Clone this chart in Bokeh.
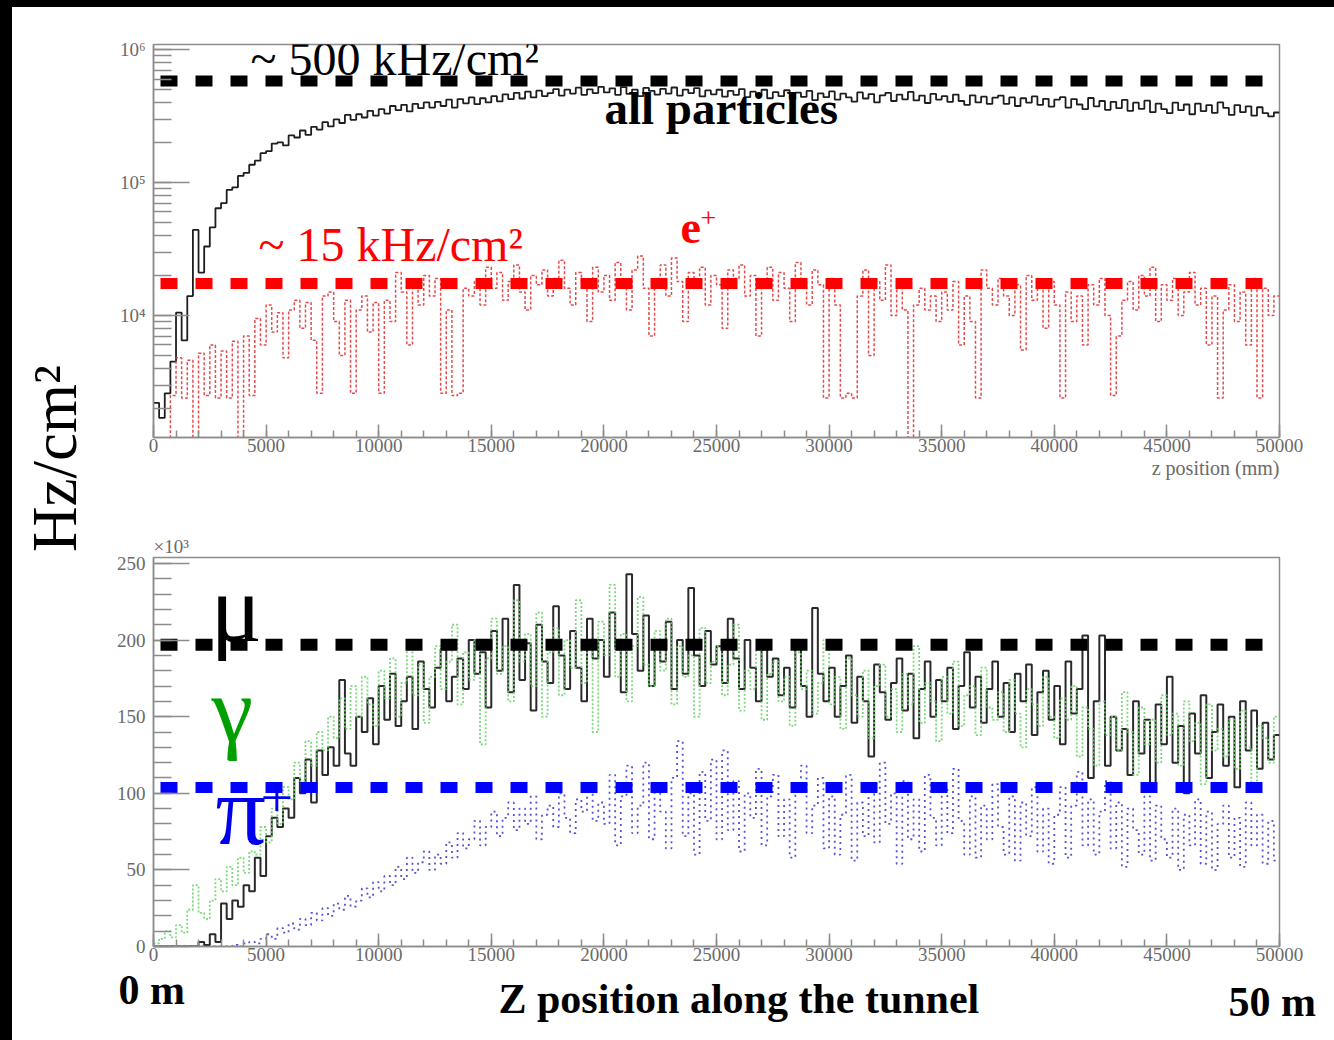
import numpy as np
from bokeh.plotting import figure
from bokeh.layouts import row, column
from bokeh.models import (Label, Title, SingleIntervalTicker, LogTicker, CustomJSTickFormatter,
                          GlobalInlineStyleSheet)
from bokeh.embed import file_html
from bokeh.resources import INLINE

# ---------------- data ----------------
BIN_MM = 250
Z_EDGES = list(range(0, 50001, BIN_MM))   # bin edges along the tunnel (mm)

# top panel (Hz/cm^2, given here in kHz/cm^2)
all_particles_khz = [
    2.2, 1.7, 2.6, 4.5, 10.5, 6.5, 14, 44, 21, 33,
    46, 64, 70, 88, 92, 112, 118, 136, 146, 166,
    172, 196, 200, 190, 226, 218, 246, 228, 262, 250,
    284, 264, 298, 280, 322, 296, 326, 308, 346, 318,
    356, 330, 376, 350, 384, 342, 390, 362, 400, 366,
    404, 376, 420, 366, 424, 394, 436, 388, 430, 400,
    446, 408, 460, 424, 472, 428, 482, 436, 490, 446,
    470, 504, 450, 500, 466, 516, 456, 502, 470, 524,
    476, 510, 456, 522, 464, 500, 446, 514, 488, 458,
    506, 466, 518, 450, 500, 470, 512, 444, 492, 460,
    498, 442, 488, 456, 504, 438, 482, 452, 498, 430,
    478, 446, 494, 424, 474, 440, 488, 416, 468, 438,
    484, 420, 466, 436, 406, 476, 428, 462, 400, 452,
    472, 410, 458, 422, 480, 414, 450, 396, 464, 420,
    446, 404, 458, 410, 384, 452, 400, 442, 390, 434,
    450, 390, 436, 376, 430, 398, 444, 384, 426, 372,
    420, 438, 366, 424, 386, 356, 432, 374, 410, 352,
    404, 362, 418, 346, 398, 358, 412, 338, 392, 356,
    332, 398, 350, 386, 326, 392, 344, 382, 334, 400,
    364, 322, 382, 338, 374, 318, 368, 332, 314, 336,
]
positron_khz = [
    0.8, 0.8, 0.8, 2.5, 4.8, 2.4, 4.6, 0.8, 5.2, 2.5,
    6.0, 2.4, 5.4, 2.4, 6.4, 0.8, 7.0, 2.5, 9.5, 6.0,
    12, 7.5, 10.5, 4.8, 11, 13, 8, 12.5, 6.5, 2.6,
    14, 15, 9, 5, 13, 2.6, 11, 14, 7.5, 12.5,
    2.6, 13, 9, 21, 15, 6, 17, 12, 20, 14,
    19, 2.6, 11, 2.5, 2.6, 16, 14, 18, 12, 23,
    16, 21, 13, 18, 24, 15, 11, 20, 17, 22,
    14, 19, 26, 16, 12, 21, 18, 9, 23, 15,
    20, 13, 25, 17, 11, 22, 28, 16, 7, 19,
    24, 14, 27, 18, 9, 21, 16, 23, 12, 20,
    17, 8, 22, 19, 24, 14, 20, 7, 18, 23,
    13, 21, 16, 9, 25, 18, 12, 22, 17, 2.4,
    19, 12, 2.4, 2.6, 2.4, 14, 22, 5, 18, 13,
    24, 10, 17, 11, 0.8, 12, 16, 11, 14, 9,
    15, 11, 18, 6, 14, 9, 2.4, 22, 16, 12,
    19, 14, 10, 17, 5.5, 20, 13, 16, 8, 18,
    12, 2.4, 15, 9, 14, 6, 17, 12, 19, 10,
    2.5, 7, 13, 18, 11, 20, 14, 23, 9, 17,
    13, 19, 10, 15, 21, 12, 16, 6, 14, 2.4,
    11, 17, 9, 15, 6, 19, 2.4, 16, 10, 14,
]
# bottom panel (x10^3 Hz/cm^2)
muon_k = [
    0, 0, 0, 0, 0, 0, 0, 0, 3, 1,
    8, 3, 28, 18, 30, 26, 40, 36, 58, 46,
    72, 84, 78, 90, 84, 110, 100, 122, 94, 128,
    112, 130, 118, 174, 126, 118, 150, 140, 162, 132,
    170, 148, 178, 144, 160, 176, 142, 186, 168, 156,
    182, 194, 160, 176, 188, 168, 200, 178, 192, 156,
    206, 180, 214, 166, 236, 174, 198, 154, 210, 186,
    172, 222, 190, 168, 206, 182, 160, 214, 188, 200,
    176, 218, 194, 166, 243, 204, 180, 216, 170, 198,
    186, 212, 168, 200, 178, 234, 190, 170, 206, 184,
    196, 172, 214, 188, 168, 200, 182, 160, 194, 176,
    188, 164, 182, 156, 196, 170, 150, 221, 178, 160,
    182, 150, 170, 190, 146, 176, 160, 124, 184, 166,
    148, 172, 188, 154, 178, 136, 168, 186, 150, 174,
    160, 182, 142, 170, 192, 156, 176, 146, 168, 186,
    150, 172, 140, 178, 160, 184, 138, 166, 180, 148,
    170, 132, 186, 152, 168, 203, 110, 160, 203, 118,
    150, 128, 142, 112, 160, 126, 148, 106, 158, 132,
    176, 120, 144, 100, 152, 126, 164, 110, 140, 158,
    118, 150, 104, 160, 128, 154, 116, 146, 122, 138,
]
gamma_k = [
    2, 5, 10, 6, 14, 9, 24, 40, 22, 18,
    30, 44, 36, 52, 40, 58, 48, 62, 60, 78,
    68, 90, 80, 104, 96, 120, 108, 134, 118, 140,
    128, 150, 136, 162, 142, 170, 150, 176, 158, 144,
    180, 162, 188, 150, 172, 194, 164, 184, 146, 176,
    196, 168, 186, 210, 158, 192, 174, 200, 132, 188,
    214, 178, 196, 160, 226, 186, 204, 170, 218, 150,
    192, 208, 164, 200, 182, 226, 172, 194, 140, 212,
    190, 236, 176, 204, 160, 196, 228, 184, 170, 206,
    180, 214, 158, 196, 176, 190, 150, 208, 172, 186,
    196, 164, 184, 210, 154, 180, 168, 194, 148, 178,
    186, 160, 176, 144, 192, 168, 180, 152, 172, 200,
    158, 176, 142, 188, 164, 150, 180, 136, 170, 184,
    150, 168, 140, 178, 158, 196, 146, 172, 160, 134,
    176, 152, 186, 144, 164, 170, 138, 182, 156, 148,
    166, 140, 174, 152, 130, 168, 158, 144, 176, 150,
    136, 162, 148, 170, 124, 156, 142, 118, 160, 138,
    150, 128, 166, 140, 112, 156, 132, 148, 120, 164,
    138, 152, 118, 160, 134, 146, 106, 158, 128, 142,
    124, 148, 116, 154, 130, 102, 144, 136, 120, 150,
]
pion_k = [
    0, 0, 0, 0, 0, 0, 0, 0, 0, 0,
    0, 0, 0, 0, 1, 0, 2, 3, 2, 5,
    8, 5, 12, 9, 15, 11, 18, 14, 22, 17,
    25, 20, 28, 24, 33, 26, 30, 38, 32, 42,
    36, 46, 40, 52, 44, 58, 48, 55, 62, 50,
    60, 54, 68, 58, 74, 64, 70, 82, 66, 78,
    88, 72, 84, 94, 76, 90, 80, 98, 70, 86,
    92, 78, 100, 84, 74, 96, 88, 106, 82, 94,
    80, 112, 66, 98, 118, 74, 92, 120, 70, 104,
    88, 64, 110, 134, 72, 100, 60, 114, 82, 122,
    70, 128, 76, 108, 62, 100, 84, 116, 66, 98,
    112, 72, 96, 58, 104, 118, 74, 92, 110, 64,
    98, 60, 86, 112, 56, 94, 72, 106, 68, 120,
    80, 100, 54, 108, 70, 96, 62, 112, 84, 66,
    104, 74, 116, 82, 60, 98, 58, 92, 70, 106,
    78, 60, 98, 56, 94, 72, 104, 62, 90, 54,
    86, 104, 58, 92, 114, 66, 96, 60, 88, 108,
    64, 94, 52, 90, 76, 60, 98, 56, 92, 70,
    58, 90, 50, 86, 66, 96, 54, 88, 50, 80,
    92, 58, 84, 52, 94, 66, 86, 54, 82, 56,
]
# guide levels (dashed lines)
REF_ALL_HZ = 5.79e5      # "~ 500 kHz/cm2"
REF_POS_HZ = 1.74e4      # "~ 15 kHz/cm2"
REF_MU_K = 197.0
REF_PI_K = 103.8

# ---------------- styling helpers ----------------
SERIF = "Liberation Serif"
AX_COL = "#8c8c8c"
LBL_COL = "#6a6a6a"
REF_X = (311, 49245)     # extent of guide lines (mm)


def style_axes(p):
    p.grid.visible = False
    p.outline_line_color = AX_COL
    p.outline_line_width = 1.5
    p.background_fill_color = "white"
    p.border_fill_color = None
    for ax in p.axis:
        ax.axis_line_color = AX_COL
        ax.axis_line_width = 1.5
        ax.major_tick_line_color = AX_COL
        ax.minor_tick_line_color = AX_COL
        ax.major_tick_line_width = 1.5
        ax.minor_tick_line_width = 1.5
        ax.major_tick_out = 0
        ax.minor_tick_out = 0
        ax.major_label_text_font = SERIF
        ax.major_label_text_color = LBL_COL
        ax.major_label_text_font_size = "19px"
    p.xaxis.major_tick_in = 13
    p.xaxis.minor_tick_in = 7
    p.xaxis.major_label_standoff = 1
    p.xaxis.ticker = SingleIntervalTicker(interval=5000, num_minor_ticks=5)
    p.yaxis.major_tick_in = 36
    p.yaxis.minor_tick_in = 18
    p.yaxis.major_label_standoff = 8


def step_y(vals, scale=1.0):
    v = [x * scale for x in vals]
    return v + [v[-1]]


def lab(p, x, y, text, size, color="black", style="normal", align="left", angle=0.0):
    p.add_layout(Label(x=x, y=y, text=text, text_font=SERIF, text_font_size=size,
                       text_color=color, text_font_style=style, text_align=align,
                       text_baseline="alphabetic", angle=angle))


# ---------------- top panel ----------------
top = figure(width=1226, height=500, y_axis_type="log", x_range=(0, 50000),
             y_range=(1209, 1.0905e6), output_backend="svg", toolbar_location=None,
             min_border_left=53, min_border_right=47, min_border_top=44, min_border_bottom=63)
style_axes(top)
top.yaxis.ticker = LogTicker(num_minor_ticks=10)
top.yaxis.formatter = CustomJSTickFormatter(code="""
    const e = Math.round(Math.log10(tick));
    const sup = {"2":"\u00b2","3":"\u00b3","4":"\u2074","5":"\u2075","6":"\u2076","7":"\u2077"};
    return "10" + sup[String(e)];
""")
top.add_layout(Title(text="z position (mm)", align="right", text_font=SERIF,
                     text_font_size="20px", text_color=LBL_COL, text_font_style="normal",
                     standoff=0), "below")

top.step(Z_EDGES, step_y(all_particles_khz, 1000), mode="after", line_color="#1e1e1e",
         line_width=1.8)
top.step(Z_EDGES, step_y(positron_khz, 1000), mode="after", line_color="#e0393c",
         line_width=1.5, line_dash="3 2", line_alpha=0.9)
top.line(list(REF_X), [REF_ALL_HZ, REF_ALL_HZ], line_color="black", line_width=11,
         line_dash="17 18")
top.line(list(REF_X), [REF_POS_HZ, REF_POS_HZ], line_color="#ff0000", line_width=11,
         line_dash="17 18")

lab(top, 4307, 8.53e5, "~ 500 kHz/cm²", "48px")
lab(top, 20027, 3.63e5, "all particles", "47px", style="bold")
lab(top, 4663, 3.40e4, "~ 15 kHz/cm²", "48px", color="#ff0000")
lab(top, 23401, 4.6e4, "e", "46px", color="#ff0000", style="bold")
lab(top, 24290, 5.38e4, "+", "28px", color="#ff0000")

# ---------------- bottom panel ----------------
bot = figure(width=1226, height=469, x_range=(0, 50000), y_range=(0, 253.9),
             output_backend="svg", toolbar_location=None,
             min_border_left=53, min_border_right=47, min_border_top=57, min_border_bottom=23)
style_axes(bot)
bot.yaxis.ticker = SingleIntervalTicker(interval=50, num_minor_ticks=5)
bot.title.text = "×10³"
bot.title.text_font = SERIF
bot.title.text_font_size = "19px"
bot.title.text_color = LBL_COL
bot.title.text_font_style = "normal"
bot.title.align = "left"
bot.title.standoff = 1

bot.step(Z_EDGES, step_y(muon_k), mode="after", line_color="#2a2a2a", line_width=2.0)
bot.step(Z_EDGES, step_y(gamma_k), mode="after", line_color="#6fd46f", line_width=1.8,
         line_dash="2 2", line_alpha=0.9)
bot.step(Z_EDGES, step_y(pion_k), mode="after", line_color="#3535d0", line_width=1.8,
         line_dash="2 4", line_alpha=0.85)
bot.line(list(REF_X), [REF_MU_K, REF_MU_K], line_color="black", line_width=12,
         line_dash="17 18")
bot.line(list(REF_X), [REF_PI_K, REF_PI_K], line_color="#0000ff", line_width=11,
         line_dash="17 18")

lab(bot, 2531, 220.4, "μ", "96px")
lab(bot, 2575, 154.7, "γ", "94px", color="#00a000")
lab(bot, 2753, 88.8, "π", "100px", color="#0000ee")
lab(bot, 4751, 97.1, "+", "58px", color="#0000ee")


def blank(w, h, **kw):
    f = figure(width=w, height=h, x_range=(0, w), y_range=(0, h),
               x_axis_location=None, y_axis_location=None, toolbar_location=None,
               output_backend="svg", min_border=0, **kw)
    f.grid.visible = False
    f.outline_line_color = None
    f.background_fill_color = None
    f.border_fill_color = None
    return f


# ---------------- side strip with the shared y label ----------------
side = blank(100, 969)
lab(side, 54, 511, "Hz/cm²", "63px", align="center", angle=np.pi / 2)

# ---------------- bottom strip with the tunnel labels ----------------
strip = blank(1326, 73, margin=(-6, 0, 0, 0))
lab(strip, 118, 47, "0 m", "42px", style="bold")
lab(strip, 498, 38, "Z position along the tunnel", "42px", style="bold")
lab(strip, 1228, 35, "50 m", "42px", style="bold")

CSS = """
html, body { margin: 0; padding: 0; }
html { background:
  linear-gradient(#000, #000) 0 0 / 100% 7px no-repeat,
  linear-gradient(#000, #000) 0 0 / 12px 3000px no-repeat,
  #fff; }
body { background: transparent; }
"""
layout = column(row(side, column(top, bot)), strip,
                stylesheets=[GlobalInlineStyleSheet(css=CSS)])

open("out.html", "w").write(file_html(layout, INLINE))
